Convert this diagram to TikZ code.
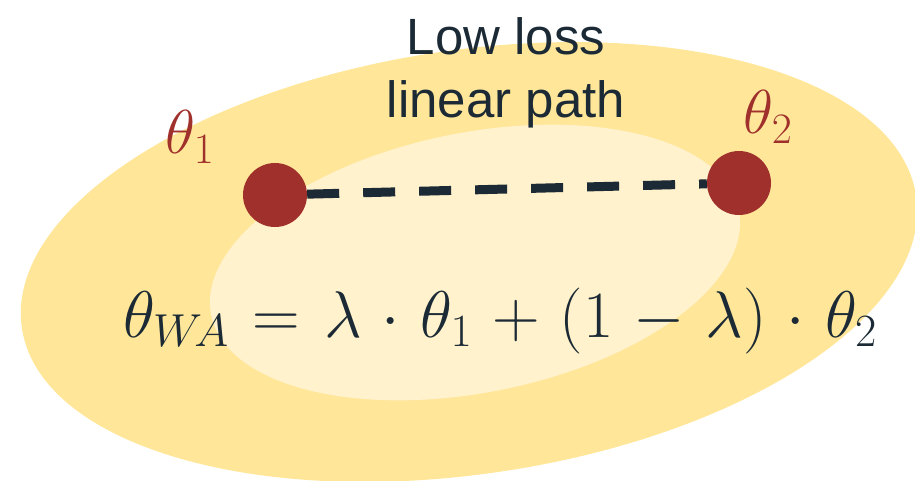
\documentclass[tikz,border=0pt]{standalone}
\usepackage{fix-cm}
\usepackage{fontspec}
\setmainfont{Liberation Sans}
\definecolor{outerY}{HTML}{FFE699}
\definecolor{innerY}{HTML}{FFF2CC}
\definecolor{dotred}{HTML}{9F302C}
\definecolor{inkdark}{HTML}{1B2A35}
\tikzset{
  dotnode/.style={circle, fill=dotred, minimum size=64pt, inner sep=0pt},
  lbl/.style={text=inkdark, font=\fontsize{51}{60}\selectfont, inner sep=0pt},
  thlbl/.style={text=dotred, font=\fontsize{62}{70}\selectfont, inner sep=0pt},
  eqn/.style={text=inkdark, font=\fontsize{66}{76}\selectfont, inner sep=0pt},
  pathline/.style={draw=inkdark, line width=9pt, dash pattern=on 32pt off 24pt}
}
\begin{document}
\begin{tikzpicture}[x=1pt,y=-1pt]
\useasboundingbox (0,0) rectangle (915,481);
\clip (0,0) rectangle (915,481);
\fill[outerY, shift={(469,262)}, rotate=8.4] (0,0) ellipse [x radius=452pt, y radius=212pt];
\fill[innerY, shift={(475,262.5)}, rotate=11.2] (0,0) ellipse [x radius=269pt, y radius=130pt];
\node[dotnode] (t1) at (275,195) {};
\node[dotnode] (t2) at (739,183) {};
\draw[pathline] (t1) -- (t2);
\node[lbl, anchor=base] (low1) at (506,55) {Low loss};
\node[lbl, anchor=base] (low2) at (506,118) {linear path};
\node[thlbl] (l1) at (190,137) {$\theta_1$};
\node[thlbl] (l2) at (768,117) {$\theta_2$};
\node[eqn, anchor=base] (eq) at (500,337) {\thickmuskip=6.5mu\medmuskip=5.5mu$\theta_{W\!A} = \lambda\cdot\theta_1 + (1-\lambda)\cdot\theta_2$};
\end{tikzpicture}
\end{document}
